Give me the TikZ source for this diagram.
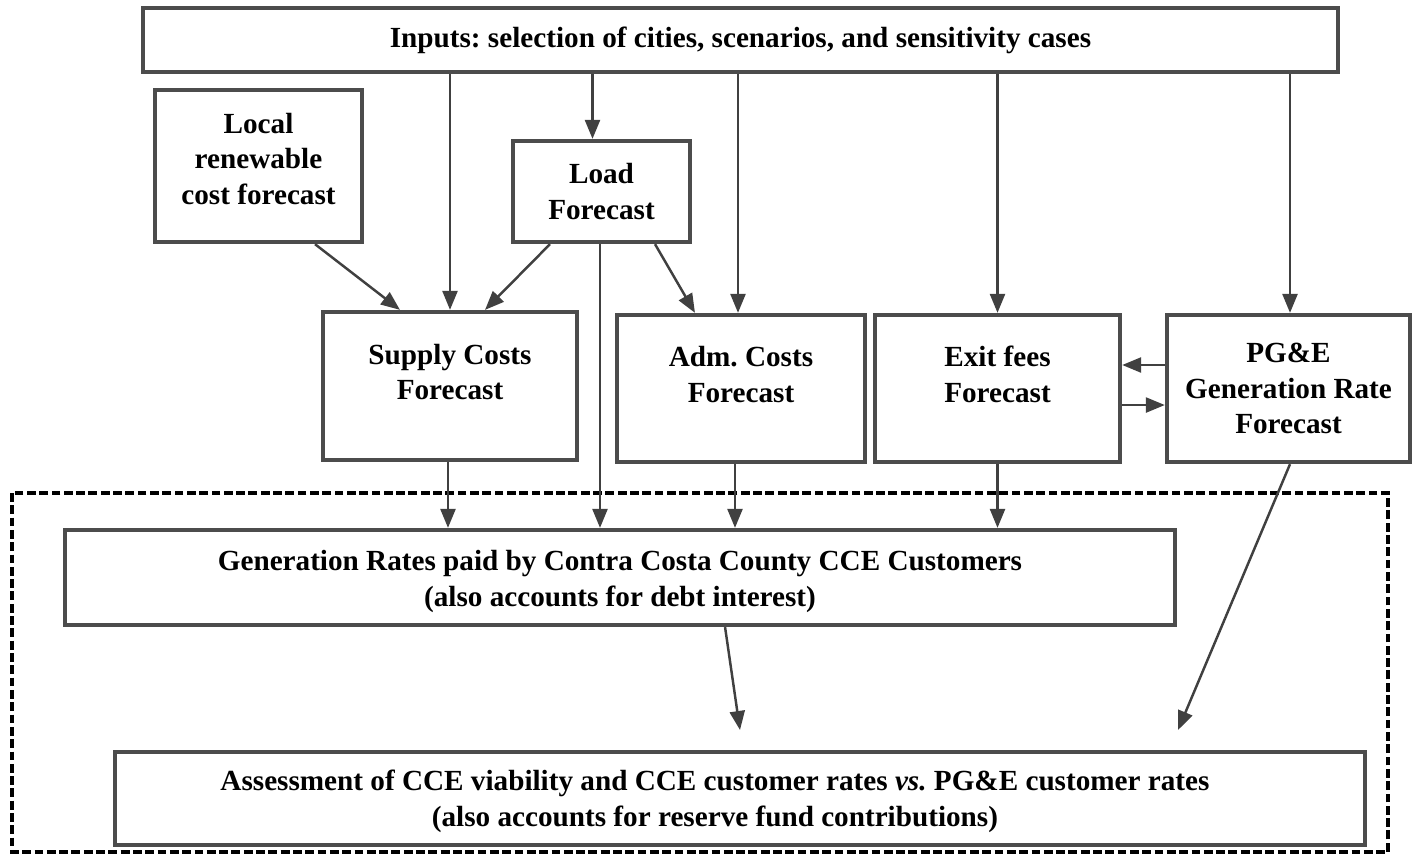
\documentclass[tikz,border=0pt]{standalone}
\usepackage{fontspec}
\setmainfont{Liberation Serif}
\usepackage{tikz}
\usetikzlibrary{arrows.meta,calc,positioning}

\tikzset{
  box/.style={draw=black!70, line width=1.2pt, align=center, inner sep=2pt},
  arr/.style={draw=black!75, line width=0.7pt, -{Triangle[length=1.9mm,width=1.5mm]}},
}

\begin{document}
\frenchspacing
\begin{tikzpicture}[x=0.01cm, y=-0.01cm, font=\fontsize{8.3}{10.2}\selectfont\bfseries]
  \useasboundingbox (0,0) rectangle (1415,859);
  % frame round the outputs
  \draw[line width=0.9pt, dash pattern=on 2.5pt off 1pt] (12,493) rectangle (1388,852);
  % boxes
  \node[box, minimum width=11.95cm, minimum height=0.64cm] (inputs) at (740.5,40)
    {Inputs: selection of cities, scenarios, and sensitivity cases};
  \node[box, minimum width=2.07cm, minimum height=1.52cm,
    label={[yshift=0.07cm,align=center]center:Local\\renewable\\cost forecast}] (local) at (258.5,166) {};
  \node[box, minimum width=1.77cm, minimum height=1.01cm] (load) at (601.5,191.5)
    {Load\\Forecast};
  \node[box, minimum width=2.54cm, minimum height=1.48cm,
    label={[yshift=0.14cm,align=center]center:Supply Costs\\Forecast}] (supply) at (450,386) {};
  \node[box, minimum width=2.48cm, minimum height=1.47cm,
    label={[yshift=0.14cm,align=center]center:Adm. Costs\\Forecast}] (adm) at (741,388.5) {};
  \node[box, minimum width=2.45cm, minimum height=1.47cm,
    label={[yshift=0.14cm,align=center]center:Exit fees\\Forecast}] (exit) at (997.5,388.5) {};
  \node[box, minimum width=2.43cm, minimum height=1.47cm] (pge) at (1288.5,388.5)
    {PG\&E\\Generation Rate\\Forecast};
  \node[box, minimum width=11.10cm, minimum height=0.95cm,
    label={[yshift=-0.04cm,align=center]center:Generation Rates paid by Contra Costa County CCE Customers\\(also accounts for debt interest)}] (gen) at (620,577.5) {};
  \node[box, minimum width=12.50cm, minimum height=0.93cm,
    label={[xshift=-0.25cm,yshift=-0.03cm,align=center]center:Assessment of CCE viability and CCE customer rates \textit{vs.} PG\&E customer rates\\(also accounts for reserve fund contributions)}] (assess) at (740,798.5) {};
  \coordinate (gentip) at (740,730);
  \coordinate (pgetip) at (1178,730);

  % inputs to the forecasts
  \draw[arr] (inputs.south -| supply.north) -- (supply.north);
  \draw[arr] ([xshift=-0.09cm]inputs.south -| load.north) -- ([xshift=-0.09cm]load.north);
  \draw[arr] ([xshift=-0.03cm]inputs.south -| adm.north) -- ([xshift=-0.03cm]adm.north);
  \draw[arr] (inputs.south -| exit.north) -- (exit.north);
  \draw[arr] ([xshift=0.015cm]inputs.south -| pge.north) -- ([xshift=0.015cm]pge.north);
  % forecasts feeding each other
  \draw[arr] ([xshift=0.565cm]local.south) -- ([xshift=-0.5cm]supply.north);
  \draw[arr] ([xshift=-0.515cm]load.south) -- ([xshift=0.35cm]supply.north);
  \draw[arr] ([xshift=0.535cm]load.south) -- ([xshift=-0.46cm]adm.north);
  \draw[arr] ([yshift=0.235cm]pge.west) -- ([yshift=0.235cm]exit.east);
  \draw[arr] ([yshift=-0.165cm]exit.east) -- ([yshift=-0.165cm]pge.west);
  % into the generation rates
  \draw[arr] ([xshift=-0.015cm]load.south) -- ([xshift=-0.015cm]load.south |- gen.north);
  \draw[arr] ([xshift=-0.02cm]supply.south) -- ([xshift=-0.02cm]supply.south |- gen.north);
  \draw[arr] ([xshift=-0.06cm]adm.south) -- ([xshift=-0.06cm]adm.south |- gen.north);
  \draw[arr] (exit.south) -- (exit.south |- gen.north);
  % towards the assessment
  \draw[arr] ([xshift=1.05cm]gen.south) -- (gentip);
  \draw[arr] ([xshift=0.015cm]pge.south) -- (pgetip);
\end{tikzpicture}
\end{document}
